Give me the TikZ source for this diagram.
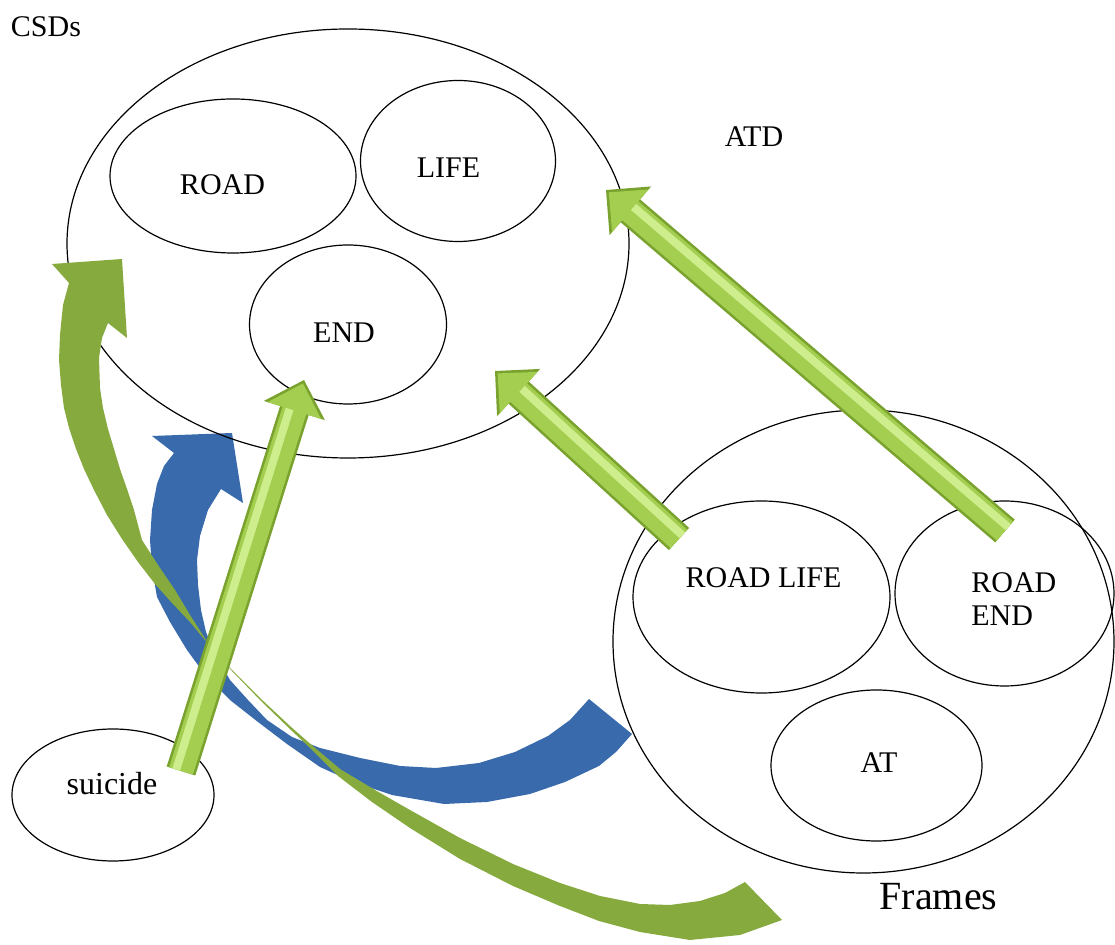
\documentclass[tikz,border=0pt]{standalone}
\usepackage{fontspec}
\setmainfont{Liberation Serif}
\usepackage{tikz}
\usetikzlibrary{shapes.geometric,calc}

\definecolor{turnblue}{RGB}{56,106,172}
\definecolor{turngreen}{RGB}{134,170,62}
\definecolor{gdark}{RGB}{122,162,46}
\definecolor{gmid}{RGB}{164,206,80}
\definecolor{glight}{RGB}{206,238,142}

\begin{document}
\begin{tikzpicture}[x=0.5pt,y=-0.5pt,
	bubble/.style={draw,ellipse,line width=0.6pt,inner sep=0pt,outer sep=0pt},
	lbl/.style={anchor=base,inner sep=0pt,font=\fontsize{15}{15}\selectfont}]
	\newcommand\fatarrow[3]{%
		\coordinate (#2-base) at ($(#2)!16pt!(#1)$);
		\fill[gdark] ($(#1)!7.5pt!90:(#2)$) -- ($(#2-base)!7.5pt!90:(#2)$) -- ($(#2-base)!16pt!90:(#2)$) -- (#2)
			-- ($(#2-base)!16pt!-90:(#2)$) -- ($(#2-base)!7.5pt!-90:(#2)$) -- ($(#1)!7.5pt!-90:(#2)$) -- cycle;
		\fill[gmid] ($(#1)!6.2pt!90:(#2)$) -- ($(#2-base)!6.2pt!90:(#2)$) -- ($(#2-base)!14pt!90:(#2)$) -- ($(#2)!1.8pt!(#1)$)
			-- ($(#2-base)!14pt!-90:(#2)$) -- ($(#2-base)!6.2pt!-90:(#2)$) -- ($(#1)!6.2pt!-90:(#2)$) -- cycle;
		\draw[glight,line width=4pt] ($(#1)!2.5pt!#3:(#2)$) -- ($(#2-base)!2.5pt!#3:(#2)$);
	}
	
	\useasboundingbox (0,0) rectangle (1115,945);
	
	% blue curved arrow
	\fill[turnblue] plot coordinates {(632,734) (616,752) (599,766) (565,782) (530,794) (487,802) (444,804) (392,795) (353,782) (320,767) (287,744) (258,722) (230,700) (206,676) (187,650) (170,622) (157,597) (152,568) (150,540) (152,510) (157,484) (164,466) (174,453)}
		-- (152,436) -- (232,433) -- (243,503)
		-- plot coordinates {(221,489) (208,510) (200,536) (197,560) (198,585) (201,610) (206,632) (214,652) (230,680) (248,700) (267,720) (292,737) (320,748) (360,758) (400,766) (436,768) (479,763) (515,752) (548,736) (570,720) (589,699)} -- cycle;
	
	\node[bubble,minimum width=281pt,minimum height=214.5pt] (csd) at (348,243.5) {};
	\node[bubble,minimum width=123pt,minimum height=77pt] (road) at (233,176) {};
	\node[bubble,minimum width=97.5pt,minimum height=80.5pt] (life) at (458,161) {};
	\node[bubble,minimum width=98.5pt,minimum height=79.5pt] (endc) at (348,324.5) {};
	\node[bubble,minimum width=250.5pt,minimum height=231.5pt] (frames) at (863.5,641.5) {};
	\node[bubble,minimum width=128.5pt,minimum height=96pt] (roadlife) at (761.5,597) {};
	\node[bubble,minimum width=109.5pt,minimum height=92.5pt] (roadend) at (1004.5,593.5) {};
	\node[bubble,minimum width=105.5pt,minimum height=75.5pt] (at) at (876.5,765.5) {};
	\node[bubble,minimum width=101pt,minimum height=66pt] (suicide) at (113,795) {};
	
	% green curved arrow
	\fill[turngreen] plot coordinates {(745,882) (725,893) (700,901) (670,905) (640,904) (600,896) (560,883) (513,864) (460,838) (410,810) (375,790) (340,769) (307,741) (290,726) (260,698) (230,668) (204,639) (190,622) (172,603) (155,584) (138,562) (122,539) (107,515) (94,490) (84,469) (76,449) (69,428) (64,408) (61,385) (59,360) (60,335) (63,305) (69,283)}
		-- (52,264) -- (122,259) -- (127,338)
		-- plot coordinates {(108,323) (102,338) (99,358) (100,388) (103,408) (108,429) (114,449) (120,469) (127,489) (134,510) (142,540) (158,565) (175,590) (190,615) (206,640) (232,671) (262,702) (292,731) (309,747) (338,776) (372,802) (410,828) (460,859) (513,886) (560,906) (599,921) (640,932) (690,940) (740,935) (782,920)} -- cycle;
	
	\coordinate (suicidetail) at (181,771);
	\coordinate (endtip) at (304,380);
	\coordinate (lifetail) at (679,539);
	\coordinate (csdtip) at (495,371);
	\coordinate (roadendtail) at (1005,531);
	\coordinate (atdtip) at (606,190);
	
	\fatarrow{suicidetail}{endtip}{90}
	\fatarrow{lifetail}{csdtip}{-90}
	\fatarrow{roadendtail}{atdtip}{-90}
	
	\node[lbl] (csdlbl) at (46,37) {CSDs};
	\node[lbl] (roadlbl) at (222.5,195) {ROAD};
	\node[lbl] (lifelbl) at (448.5,178) {LIFE};
	\node[lbl] (endlbl) at (344,343) {END};
	\node[lbl] (atdlbl) at (754,147) {ATD};
	\node[lbl] (roadlifelbl) at (763.5,588) {ROAD LIFE};
	\node[lbl,anchor=base west] (roadendlbla) at (971,593) {ROAD};
	\node[lbl,anchor=base west] (roadendlblb) at (971,626) {END};
	\node[lbl] (atlbl) at (879,773) {AT};
	\node[lbl,font=\fontsize{16}{16}\selectfont] (suicidelbl) at (112,795) {suicide};
	\node[lbl,font=\fontsize{20}{20}\selectfont] (frameslbl) at (938.5,910) {Frames};
	
\end{tikzpicture}
\end{document}
